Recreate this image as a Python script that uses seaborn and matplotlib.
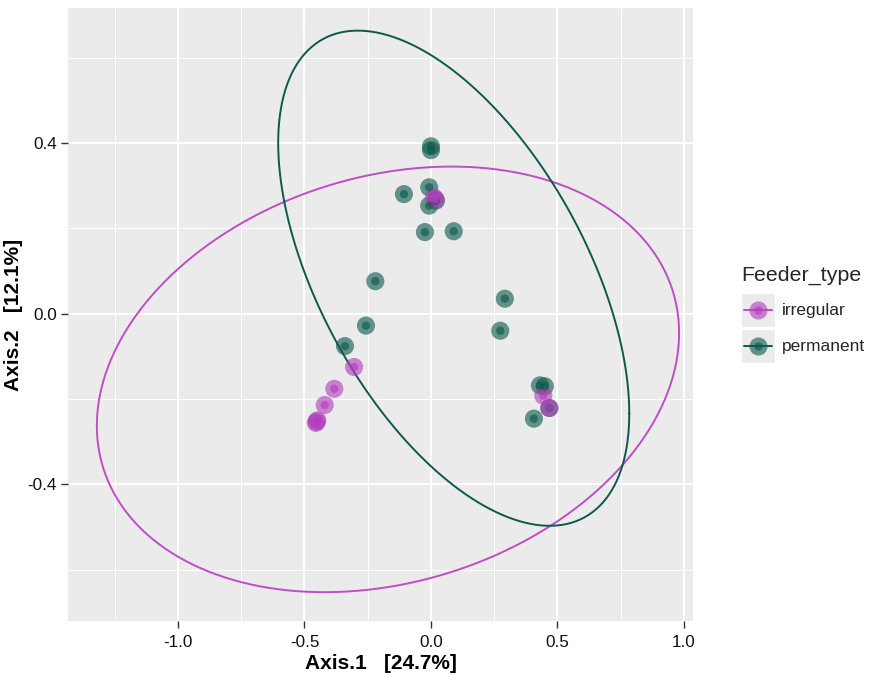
import numpy as np
import pandas as pd
import matplotlib
matplotlib.use("Agg")
import matplotlib.pyplot as plt
import seaborn as sns
from matplotlib.lines import Line2D
from matplotlib.patches import Rectangle

# ---------------- data ----------------
perm_x = [0.0, 0.0, -0.107, -0.007, -0.007, 0.02, -0.024, 0.09, -0.22, 0.292,
          -0.257, 0.274, -0.34, 0.431, 0.45, 0.468, 0.407]
perm_y = [0.392, 0.383, 0.28, 0.296, 0.253, 0.265, 0.191, 0.193, 0.076, 0.035,
          -0.028, -0.04, -0.076, -0.168, -0.17, -0.221, -0.246]
irr_x = [0.012, 0.018, -0.304, -0.382, -0.42, -0.452, -0.455, -0.449, 0.444, 0.468]
irr_y = [0.272, 0.268, -0.125, -0.176, -0.214, -0.253, -0.256, -0.250, -0.192, -0.221]

groups = ["irregular", "permanent"]
colors = {"irregular": "#B23EBD", "permanent": "#0D5A4C"}
line_colors = {"irregular": "#BE4EC6", "permanent": "#0D5A4C"}

# ellipse descriptions: centre, half-extents along x / y, and cross term
ell_center = {"irregular": (-0.17, -0.154), "permanent": (0.09, 0.083)}
ell_halfx = {"irregular": 1.151, "permanent": 0.694}
ell_halfy = {"irregular": 0.4985, "permanent": 0.58}
ell_cross = {"irregular": 0.125, "permanent": -0.22}

x_ticks = [-1.0, -0.5, 0.0, 0.5, 1.0]
x_ticklabels = ["-1.0", "-0.5", "0.0", "0.5", "1.0"]
y_ticks = [-0.4, 0.0, 0.4]
y_ticklabels = ["-0.4", "0.0", "0.4"]
x_label = "Axis.1   [24.7%]"
y_label = "Axis.2   [12.1%]"
legend_title = "Feeder_type"

df = pd.DataFrame({
    "Axis.1": perm_x + irr_x,
    "Axis.2": perm_y + irr_y,
    "Feeder_type": ["permanent"] * len(perm_x) + ["irregular"] * len(irr_x),
})

# ---------------- figure ----------------
sns.set_theme(style="darkgrid")
plt.rcParams["font.family"] = ["Liberation Sans", "DejaVu Sans"]

W, H = 872, 677
fig = plt.figure(figsize=(W / 100, H / 100), dpi=100)
ax = fig.add_axes([68 / W, 1 - 621 / H, (693 - 68) / W, (621 - 8) / H])
ax.set_facecolor("#EBEBEB")

# ellipses
t = np.linspace(0, 2 * np.pi, 361)
for g in groups:
    M = np.array([[ell_halfx[g] ** 2, ell_cross[g]],
                  [ell_cross[g], ell_halfy[g] ** 2]])
    L = np.linalg.cholesky(M)
    pts = L @ np.vstack([np.cos(t), np.sin(t)])
    cx, cy = ell_center[g]
    ax.plot(pts[0] + cx, pts[1] + cy, color=line_colors[g], lw=1.4, zorder=2)

# points: big translucent disc, then small core
sns.scatterplot(data=df, x="Axis.1", y="Axis.2", hue="Feeder_type",
                hue_order=groups, palette=colors, s=170, alpha=0.62,
                linewidth=0, legend=False, ax=ax, zorder=3)
sns.scatterplot(data=df, x="Axis.1", y="Axis.2", hue="Feeder_type",
                hue_order=groups, palette=colors, s=36, alpha=0.65,
                linewidth=0, legend=False, ax=ax, zorder=4)

ax.set_xlim(-1.435, 1.036)
ax.set_ylim(-0.72, 0.716)
ax.set_xticks(x_ticks)
ax.set_xticklabels(x_ticklabels)
ax.set_yticks(y_ticks)
ax.set_yticklabels(y_ticklabels)
ax.set_xticks([-1.25, -0.75, -0.25, 0.25, 0.75], minor=True)
ax.set_yticks([-0.6, -0.2, 0.2, 0.6], minor=True)
ax.grid(which="major", color="white", lw=1.5)
ax.grid(which="minor", color="white", lw=0.75)
ax.set_axisbelow(True)
for s in ax.spines.values():
    s.set_visible(False)
ax.tick_params(which="major", length=5, width=1, color="#333333",
               labelsize=12.3, labelcolor="#111111", pad=3, bottom=True, left=True)
ax.tick_params(axis="x", which="major", pad=5)
ax.tick_params(which="minor", length=0)

ax.set_xlabel(x_label, fontsize=15, fontweight="bold", labelpad=3, color="#000000")
ax.set_ylabel(y_label, fontsize=15, fontweight="bold", labelpad=3, color="#000000")

# legend (ggplot-like)
fig.text(741 / W, 1 - 275 / H, legend_title, fontsize=15.4, va="center", ha="left")
key_h = 36
for i, g in enumerate(groups):
    yc = 310 + i * key_h
    fig.patches.append(Rectangle((741 / W, 1 - (yc + 17) / H), 34 / W, 34 / H,
                                 transform=fig.transFigure, facecolor="#EBEBEB",
                                 edgecolor="white", lw=1))
    fig.add_artist(Line2D([744 / W, 772 / W], [1 - yc / H] * 2,
                          color=line_colors[g], lw=1.4, transform=fig.transFigure))
    fig.add_artist(Line2D([758 / W], [1 - yc / H], marker="o", ms=13,
                          color=colors[g], alpha=0.62, mew=0, ls="none",
                          transform=fig.transFigure))
    fig.add_artist(Line2D([758 / W], [1 - yc / H], marker="o", ms=6,
                          color=colors[g], alpha=0.65, mew=0, ls="none",
                          transform=fig.transFigure))
    fig.text(782 / W, 1 - yc / H, g, fontsize=12.5, va="center", ha="left")

fig.savefig("out.png", dpi=100, facecolor="white")
